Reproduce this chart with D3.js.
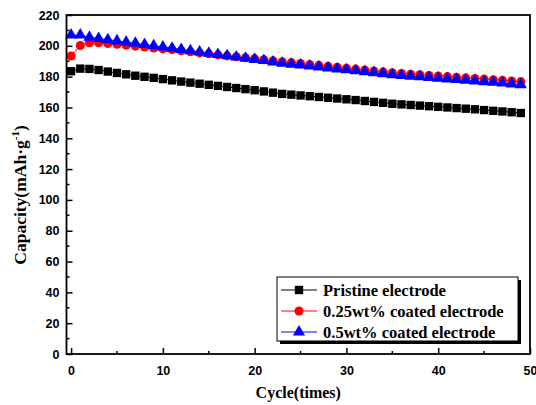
<!DOCTYPE html>
<html><head><meta charset="utf-8">
<script src="https://cdn.jsdelivr.net/npm/d3@7"></script>
<style>body{margin:0;background:#fff}svg{display:block}</style>
</head><body>
<svg id="c" width="536" height="405"></svg>
<script>
const cycles = d3.range(0, 50);
const pristine = [183.5,185.2,185.0,184.3,183.3,182.4,181.5,180.6,179.9,179.2,178.4,177.6,176.8,176.1,175.4,174.7,174.0,173.3,172.6,171.9,171.2,170.4,169.6,168.8,168.3,167.8,167.3,166.8,166.3,165.8,165.3,164.8,164.2,163.6,163.0,162.4,162.0,161.6,161.2,160.8,160.4,160.0,159.6,159.2,158.8,158.3,157.8,157.4,156.9,156.4];
const coated025 = [193.4,200.2,202.0,202.0,201.5,201.0,200.4,199.8,199.2,198.6,198.0,197.5,196.8,196.1,195.4,194.8,194.1,193.5,192.9,192.3,191.7,191.0,190.3,189.7,189.1,188.5,187.9,187.3,186.7,186.1,185.5,184.9,184.3,183.7,183.1,182.5,182.0,181.6,181.2,180.8,180.4,180.0,179.6,179.2,178.8,178.4,178.0,177.6,177.2,176.8];
const coated05 = [207.0,207.0,205.6,204.8,204.0,203.2,202.4,201.6,200.8,200.0,199.2,198.4,197.6,196.8,196.0,195.2,194.4,193.6,192.8,192.0,191.2,190.4,189.5,188.7,188.1,187.5,186.9,186.2,185.6,185.0,184.4,183.8,183.2,182.5,181.9,181.2,180.8,180.3,179.9,179.4,179.0,178.5,178.1,177.6,177.2,176.7,176.3,175.8,175.3,174.8];
const seriesNames = ["Pristine electrode","0.25wt% coated electrode","0.5wt% coated electrode"];
const seriesColors = ["#000000","#ff0000","#0000ff"];
const seriesShapes = ["square","circle","triangle"];
const xTicks = [0,10,20,30,40,50];
const yTicks = [0,20,40,60,80,100,120,140,160,180,200,220];

const svg = d3.select("#c");
const L = 66.5, R = 530, T = 15, B = 354;
const x = d3.scaleLinear().domain([-0.5, 50]).range([L, R]);
const y = d3.scaleLinear().domain([0, 220]).range([B, T]);

const allSeries = [pristine, coated025, coated05];
const symType = {square: d3.symbolSquare, circle: d3.symbolCircle, triangle: d3.symbolTriangle};
const symSize = {square: 70, circle: 64, triangle: 64};

allSeries.forEach((vals, i) => {
  const data = cycles.map((c, k) => [c, vals[k]]);
  svg.append("path").datum(data)
    .attr("d", d3.line().x(d => x(d[0])).y(d => y(d[1])))
    .attr("fill", "none").attr("stroke", seriesColors[i]).attr("stroke-width", 1);
  svg.append("g").selectAll("path").data(data).join("path")
    .attr("transform", d => `translate(${x(d[0])},${y(d[1])})`)
    .attr("d", d3.symbol().type(symType[seriesShapes[i]]).size(symSize[seriesShapes[i]]))
    .attr("fill", seriesColors[i]);
});

const tickFont = "bold 12.5px 'Liberation Sans', Arial, sans-serif";
const xAxis = svg.append("g").attr("transform", `translate(0,${B})`)
  .call(d3.axisBottom(x).tickValues(xTicks).tickSize(-6).tickPadding(12).tickFormat(d3.format("d")));
const yAxis = svg.append("g").attr("transform", `translate(${L},0)`)
  .call(d3.axisLeft(y).tickValues(yTicks).tickSize(-6).tickPadding(7).tickFormat(d3.format("d")));
[xAxis, yAxis].forEach(a => {
  a.select(".domain").remove();
  a.selectAll("line").attr("stroke", "#000").attr("stroke-width", 1.5);
  a.selectAll("text").style("font", tickFont).attr("fill", "#000");
});
svg.append("g").selectAll("line").data([5,15,25,35,45]).join("line")
  .attr("x1", d => x(d)).attr("x2", d => x(d)).attr("y1", B).attr("y2", B - 3)
  .attr("stroke", "#000").attr("stroke-width", 1.5);
svg.append("g").selectAll("line").data(d3.range(10, 220, 20)).join("line")
  .attr("x1", L).attr("x2", L + 3).attr("y1", d => y(d)).attr("y2", d => y(d))
  .attr("stroke", "#000").attr("stroke-width", 1.5);

svg.append("rect").attr("x", L).attr("y", T).attr("width", R - L).attr("height", B - T)
  .attr("fill", "none").attr("stroke", "#000").attr("stroke-width", 1.8);

const serif = "'Liberation Serif', 'Times New Roman', serif";
svg.append("text").attr("x", (L + R) / 2).attr("y", 398).attr("text-anchor", "middle")
  .style("font", `bold 16px ${serif}`).text("Cycle(times)");
const yl = svg.append("text").attr("transform", `translate(26,195) rotate(-90)`).attr("text-anchor", "middle")
  .style("font", `bold 17.5px ${serif}`);
yl.append("tspan").text("Capacity(mAh·g");
yl.append("tspan").attr("dy", -7).style("font-size", "11px").text("-1");
yl.append("tspan").attr("dy", 7).text(")");

const lg = svg.append("g");
const lx = 277, ly = 277, lw = 241, lh = 64;
lg.append("rect").attr("x", lx + 3).attr("y", ly + 3).attr("width", lw).attr("height", lh).attr("fill", "#000");
lg.append("rect").attr("x", lx).attr("y", ly).attr("width", lw).attr("height", lh)
  .attr("fill", "#fff").attr("stroke", "#000").attr("stroke-width", 1);
seriesNames.forEach((name, i) => {
  const yy = ly + 13 + i * 21;
  lg.append("line").attr("x1", lx + 4).attr("x2", lx + 40).attr("y1", yy).attr("y2", yy)
    .attr("stroke", seriesColors[i]).attr("stroke-width", 1);
  lg.append("path").attr("transform", `translate(${lx + 22},${yy})`)
    .attr("d", d3.symbol().type(symType[seriesShapes[i]]).size(symSize[seriesShapes[i]]))
    .attr("fill", seriesColors[i]);
  lg.append("text").attr("x", lx + 46).attr("y", yy + 5.5)
    .style("font", `bold 16.5px ${serif}`).text(name);
});
</script>
</body></html>
